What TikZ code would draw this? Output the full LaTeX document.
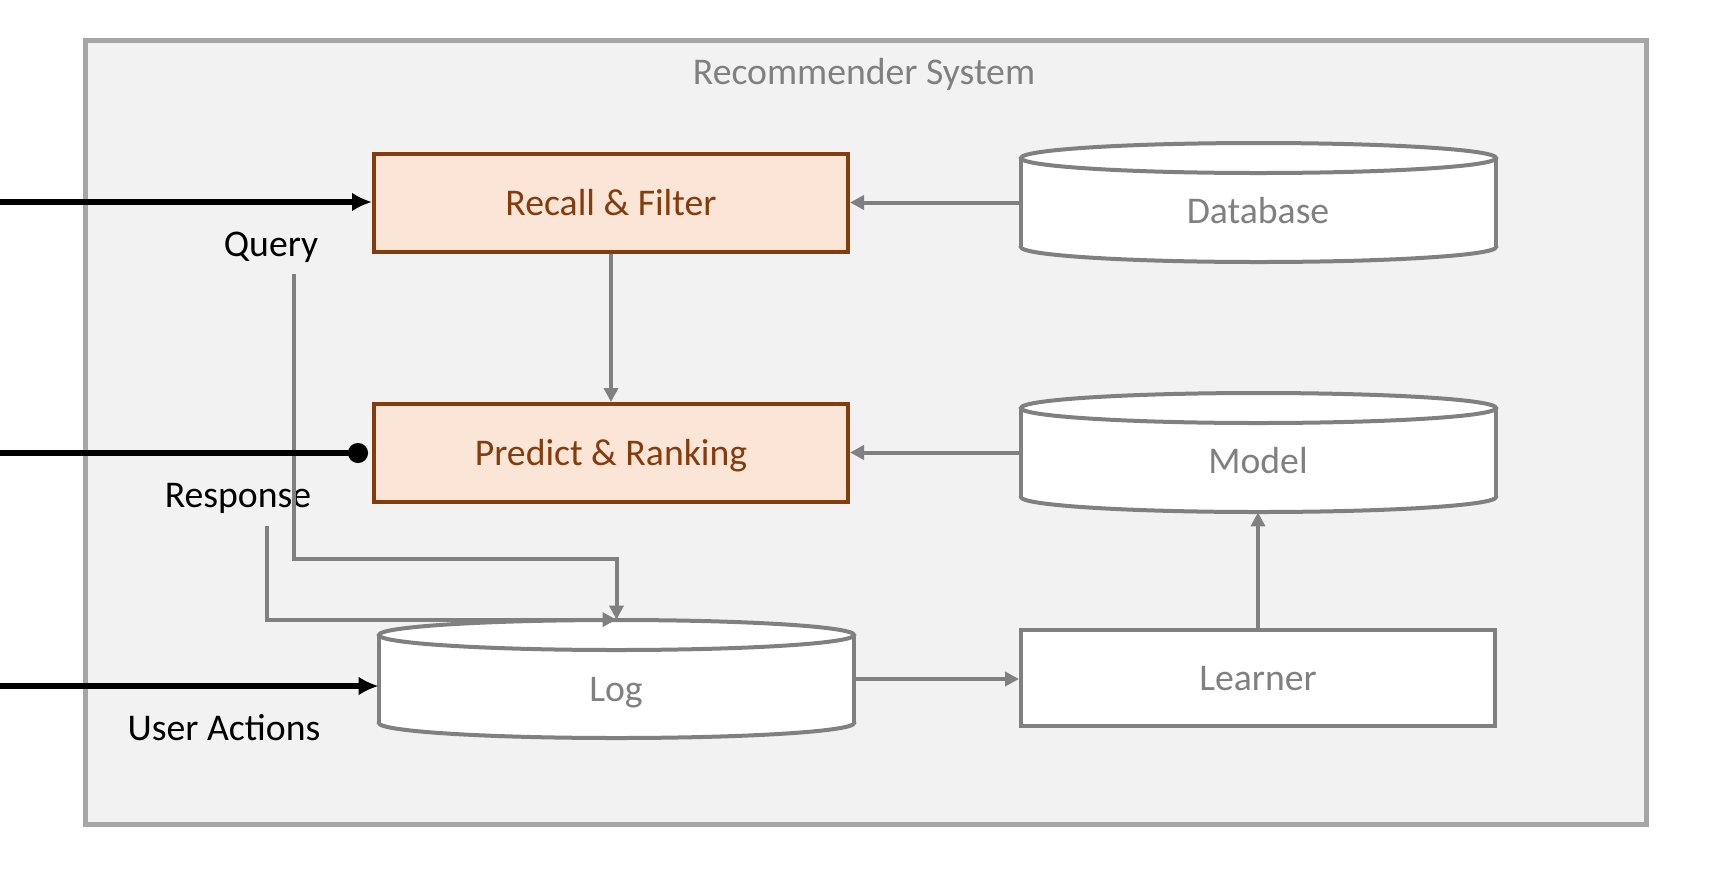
\documentclass[tikz,border=0pt]{standalone}
\usepackage{fontspec}
\setmainfont{Carlito}
\usetikzlibrary{arrows.meta,calc}
\definecolor{bgc}{HTML}{F2F2F2}
\definecolor{framec}{HTML}{A6A6A6}
\definecolor{grayc}{HTML}{808080}
\definecolor{brownc}{HTML}{843C0C}
\definecolor{peachc}{HTML}{FBE5D6}
\newcommand{\mycyl}[4]{%
  \draw[cylline,fill=white] ({(#1+#2)/2},#4) ellipse [x radius={(#2-#1)/2}, y radius=15];
  \fill[white] (#1,#3) rectangle (#2,#4);
  \draw[cylline] (#1,#3) -- (#1,#4) (#2,#3) -- (#2,#4);
  \draw[cylline,fill=white] ({(#1+#2)/2},#3) ellipse [x radius={(#2-#1)/2}, y radius=15];
}
\begin{document}
\begin{tikzpicture}[x=0.5pt,y=-0.5pt,
  txt/.style={font=\fontsize{18.85}{22}\selectfont, inner sep=0pt, text height=12.6pt, text depth=0pt},
  frame/.style={draw=framec, fill=bgc, line width=2.5pt, minimum width=780.5pt, minimum height=392pt, inner sep=0pt},
  procbox/.style={draw=brownc, fill=peachc, line width=2pt, minimum width=237pt, minimum height=49pt, inner sep=0pt, text=brownc, font=\fontsize{18.85}{22}\selectfont, text height=12.6pt, text depth=0pt},
  plainbox/.style={draw=grayc, fill=white, line width=2pt, minimum width=237pt, minimum height=48pt, inner sep=0pt, text=grayc, font=\fontsize{18.85}{22}\selectfont, text height=12.6pt, text depth=0pt},
  cylline/.style={draw=grayc, line width=2pt},
  cylbound/.style={minimum width=237.5pt, inner sep=0pt},
  garrow/.style={draw=grayc, line width=2pt, -{Triangle[length=7pt,width=7pt]}},
  barrow/.style={draw=black, line width=2.8pt, -{Latex[length=10pt,width=9.5pt]}},
  bdot/.style={draw=black, line width=2.8pt, -{Circle[length=10pt]}}
]
\useasboundingbox (0,0) rectangle (1714,880);
\node[frame] (sys) at (865.5,432) {};
\node[txt, text=grayc] (title) at (864,72) {Recommender System};

% boxes
\node[procbox] (recall) at (611,203) {Recall \& Filter};
\node[procbox] (predict) at (611,453) {Predict \& Ranking};
\node[plainbox] (learner) at (1258,678) {Learner};

% cylinders
\mycyl{1021}{1496}{158}{247}
\node[cylbound, minimum height=59.5pt] (db) at (1258.5,202.5) {};
\node[txt, text=grayc] (dbl) at (1258,211) {Database};
\mycyl{1021}{1496}{408}{497}
\node[cylbound, minimum height=59.5pt] (model) at (1258.5,452.5) {};
\node[txt, text=grayc] (modell) at (1258,461) {Model};
\mycyl{379}{854}{635}{723}
\node[cylbound, minimum height=59pt] (log) at (616.5,679) {};
\node[txt, text=grayc] (logl) at (616,689) {Log};

% labels
\node[txt] (ql) at (271,244) {Query};
\node[txt] (rl) at (238,495) {Response};
\node[txt] (ul) at (224,728) {User Actions};

% gray connectors
\draw[garrow] (db.west) -- (db.west -| recall.east);
\draw[garrow] (recall.south) -- (predict.north);
\draw[garrow] (model.west) -- (model.west -| predict.east);
\draw[garrow] (learner.north) -- (learner.north |- model.south);
\draw[garrow] (log.east) -- (log.east -| learner.west);
\coordinate (qs) at (294,274);
\coordinate (qk) at (294,559);
\draw[garrow] (qs) -- (qk) -| (log.north);
\coordinate (rs) at (267,526);
\draw[garrow] (rs) |- (log.north);

% black inputs
\coordinate (qin) at (0,202);
\draw[barrow] (qin) -- (qin -| recall.west);
\coordinate (rin) at (0,453);
\draw[bdot] (rin) -- ($(rin -| predict.west)+(-4,0)$);
\coordinate (uin) at (0,686);
\draw[barrow] (uin) -- (uin -| log.west);
\end{tikzpicture}
\end{document}
